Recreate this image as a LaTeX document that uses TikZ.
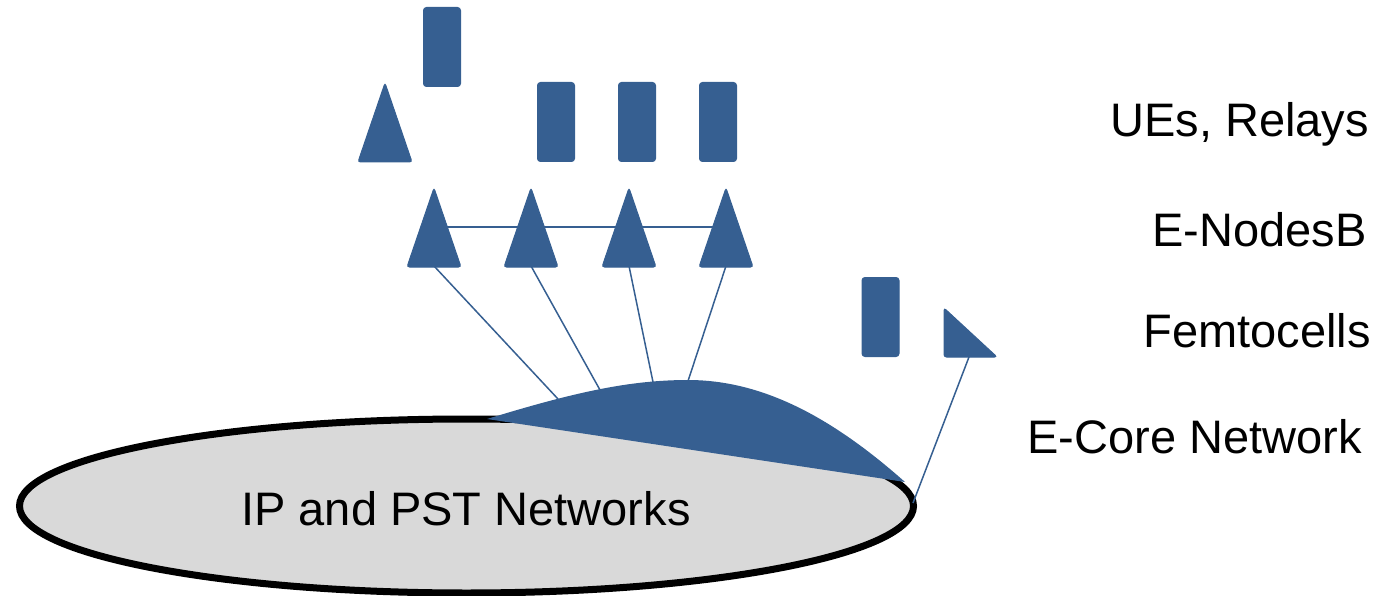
\documentclass[tikz,border=0pt]{standalone}
\usepackage{fontspec}
\setmainfont{Liberation Sans}
\definecolor{nblue}{RGB}{54,95,145}
\definecolor{ipgray}{RGB}{217,217,217}
\begin{document}
\begin{tikzpicture}[x=1pt,y=-1pt,
  dev/.style={draw=nblue,fill=nblue,line width=1pt,rounded corners=3pt,minimum width=37pt,minimum height=79pt,inner sep=0pt},
  tri/.style={draw=nblue,fill=nblue,line width=1pt,rounded corners=2.5pt},
  link/.style={draw=nblue,line width=1.5pt},
  lbl/.style={font=\fontsize{47}{56}\selectfont,inner sep=0pt,anchor=base east}]
\useasboundingbox (0,0) rectangle (1394,596);
% IP network ellipse
\fill[ipgray] (466.5,506) ellipse [x radius=447, y radius=87];
\draw[black,line width=7pt] (466.5,506) ellipse [x radius=447, y radius=87];
\node[font=\fontsize{47}{56}\selectfont,inner sep=0pt,anchor=base] (ip) at (466,525) {IP and PST Networks};
% connection points on core network
\coordinate (c1) at (558,399);
\coordinate (c2) at (600,390);
\coordinate (c3) at (653,382);
\coordinate (c4) at (688,381);
% eNodeB base points
\coordinate (b1) at (434,266);
\coordinate (b2) at (531,266);
\coordinate (b3) at (629,266);
\coordinate (b4) at (726,266);
\coordinate (m1) at (434,227);
\coordinate (m4) at (726,227);
\draw[link] (b1) -- (c1);
\draw[link] (b2) -- (c2);
\draw[link] (b3) -- (c3);
\draw[link] (b4) -- (c4);
\draw[link] (m1) -- (m4);
% core network shape
\fill[nblue] (487,419) .. controls (575,392) and (630,380) .. (688,380)
  .. controls (765,380) and (835,420) .. (905,482) -- cycle;
% eNodeB triangles
\foreach \cx in {434,531,629,726}{
  \path[tri] (\cx,188) -- (\cx+27,267) -- (\cx-27,267) -- cycle;
}
% UE relay triangle
\path[tri] (385,83) -- (412,162) -- (358,162) -- cycle;
% UEs
\node[dev] (ue0) at (442,47) {};
\node[dev] (ue1) at (556,122) {};
\node[dev] (ue2) at (637,122) {};
\node[dev] (ue3) at (718,122) {};
% femtocells
\node[dev] (fue) at (880.5,317) {};
\path[tri] (944,308) -- (997,357) -- (944,357) -- cycle;
\coordinate (fb) at (969,357);
\coordinate (ipr) at (913,503);
\draw[link] (fb) -- (ipr);
% labels
\node[lbl] (l1) at (1369,137) {UEs, Relays};
\node[lbl] (l2) at (1367,246) {E-NodesB};
\node[lbl] (l3) at (1371,347) {Femtocells};
\node[lbl] (l4) at (1362,453) {E-Core Network};
\end{tikzpicture}
\end{document}
